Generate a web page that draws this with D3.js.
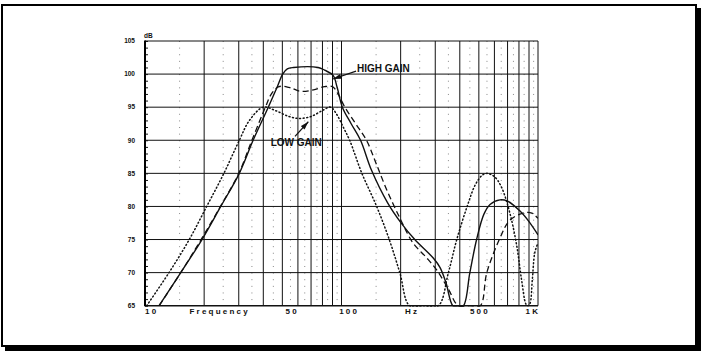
<!DOCTYPE html>
<html>
<head>
<meta charset="utf-8">
<script src="https://cdn.jsdelivr.net/npm/d3@7"></script>
<style>
  html, body { margin: 0; padding: 0; background: #fff; }
  svg { display: block; }
  text { font-family: Arial, "Liberation Sans", Helvetica, sans-serif; font-weight: bold; fill: #111; }
</style>
</head>
<body>
<div id="chart"></div>
<script>
// curves: [frequency Hz, level dB]
const highGain = [
    [11.8, 65], [15.2, 70], [19.5, 75], [24.3, 80], [30.2, 85], [35.5, 90], [42.4, 95], [47, 98],
    [50.2, 100], [53, 100.8], [57, 101], [76, 101], [82, 100.6], [90.6, 99.8], [95, 98], [101, 95],
    [112, 92.5], [125, 90], [142, 85.5], [172, 80.5], [200, 77.6], [236, 75], [293, 72.2], [317, 70.8],
    [340, 68.5], [369, 65], [392, 55], [417, 65], [450, 70], [487, 75], [530, 78.8], [570, 80.3],
    [640, 81], [700, 80.8], [810, 79.3], [900, 77.7], [1000, 75.7]
];
const midGain = [
    [11.8, 65], [15.2, 70], [19.3, 75], [24.2, 80], [30, 85], [35, 90], [41, 95], [44, 97],
    [48, 98.1], [54, 98], [62, 97.4], [72, 97.6], [82, 98.1], [90, 98.1], [96, 97], [104, 95],
    [118, 92.5], [134, 90], [150, 86.5], [170, 82.5], [200, 78], [231, 74.5], [270, 72.3], [305, 70.4],
    [350, 67.5], [393, 65], [450, 58], [508, 65], [549, 70], [640, 75.2], [718, 77.9], [840, 79],
    [930, 79], [1000, 78.2]
];
const lowGain = [
    [10.2, 65], [13.25, 70], [16.8, 75], [20.6, 80], [25.2, 85], [30.2, 90], [34, 93], [40, 95],
    [46, 94.5], [54, 93.6], [61, 93.3], [70, 93.6], [80, 94.5], [88, 95], [95, 93.8], [102, 92],
    [110, 90], [127, 85], [151, 80], [175, 75], [198, 70], [222, 65], [262, 55], [311, 65],
    [350, 70], [386, 75], [436, 80], [480, 83.3], [520, 84.7], [549, 85], [600, 84.5], [650, 83],
    [719, 79], [780, 74], [824, 69], [870, 65.2], [890, 63], [910, 65.3], [936, 69], [963, 73],
    [1000, 74.5]
];

const dbTicks = [65, 70, 75, 80, 85, 90, 95, 100, 105];
const majorFreqs = [20, 30, 40, 50, 60, 70, 80, 90, 100, 200, 300, 400, 500, 600, 700, 800, 900, 1000];
const minorFreqs = [15, 25, 35, 45, 55, 65, 75, 85, 95, 150, 250, 350, 450, 550, 650, 750, 850, 950];
const xLabels = [
    { text: "1 0", f: 10, anchor: "start" },
    { text: "F r e q u e n c y", f: 23.7, anchor: "middle" },
    { text: "5 0", f: 55.4, anchor: "middle" },
    { text: "1 0 0", f: 108, anchor: "middle" },
    { text: "H z", f: 226, anchor: "middle" },
    { text: "5 0 0", f: 500, anchor: "middle" },
    { text: "1 K", f: 1000, anchor: "end" }
];
const notes = [
    { text: "HIGH GAIN", tf: 120, tdb: 100.26, f0: 118.6, db0: 100.45, f1: 90.5, db1: 99.25 },
    { text: "LOW GAIN", tf: 43.6, tdb: 89.2, f0: 58, db0: 90.6, f1: 67.8, db1: 92.8 }
];

const width = 701;
const height = 351;
const plot = { left: 145, right: 538, top: 41, bottom: 305.7 };

const svg = d3.select("#chart")
    .append("svg")
    .attr("width", width)
    .attr("height", height);

const defs = svg.append("defs");

defs.append("clipPath")
    .attr("id", "plotClip")
    .append("rect")
    .attr("x", plot.left)
    .attr("y", plot.top)
    .attr("width", plot.right - plot.left)
    .attr("height", plot.bottom - plot.top + 1);

defs.append("marker")
    .attr("id", "arrow")
    .attr("viewBox", "0 0 10 6")
    .attr("refX", 10).attr("refY", 3)
    .attr("markerUnits", "userSpaceOnUse")
    .attr("markerWidth", 10).attr("markerHeight", 5)
    .attr("orient", "auto")
    .append("path")
    .attr("d", "M0,0 L10,3 L0,6 Z")
    .style("fill", "#111");

// frame with drop shadow
svg.append("rect")
    .attr("x", 5).attr("y", 8)
    .attr("width", 696).attr("height", 343)
    .style("fill", "#000");

svg.append("rect")
    .attr("x", 2).attr("y", 5)
    .attr("width", 694).attr("height", 341)
    .style("fill", "#fff")
    .style("stroke", "#000")
    .style("stroke-width", 2);

const x = d3.scaleLog().domain([10, 1000]).range([plot.left, plot.right]);
const y = d3.scaleLinear().domain([65, 105]).range([plot.bottom, plot.top]).clamp(true);

const g = svg.append("g");

// dotted half-step lines
const dbStep = y(65) - y(66);
g.selectAll("line.minor")
    .data(minorFreqs).enter()
    .append("line")
    .attr("class", "minor")
    .attr("x1", d => x(d)).attr("x2", d => x(d))
    .attr("y1", y(105)).attr("y2", y(65))
    .style("stroke", "#888")
    .style("stroke-width", 1)
    .style("stroke-dasharray", "1," + (dbStep - 1));

// major vertical lines
g.selectAll("line.major")
    .data(majorFreqs).enter()
    .append("line")
    .attr("class", "major")
    .attr("x1", d => x(d)).attr("x2", d => x(d))
    .attr("y1", y(105)).attr("y2", y(65))
    .style("stroke", "#111")
    .style("stroke-width", 1);

// horizontal lines
g.selectAll("line.hgrid")
    .data(dbTicks).enter()
    .append("line")
    .attr("class", "hgrid")
    .attr("x1", plot.left).attr("x2", plot.right)
    .attr("y1", d => y(d)).attr("y2", d => y(d))
    .style("stroke", "#111")
    .style("stroke-width", d => d === 65 ? 1.5 : 1);

// left axis with 1 dB ticks
const yAxis = d3.axisRight(y)
    .ticks(40)
    .tickSize(3)
    .tickFormat("");

const axisG = g.append("g")
    .attr("transform", "translate(" + plot.left + ",0)")
    .call(yAxis);
axisG.select(".domain").remove();
axisG.selectAll("line").style("stroke", "#111");

g.append("line")
    .attr("x1", plot.left).attr("x2", plot.left)
    .attr("y1", y(105) - 0.5).attr("y2", y(65) + 0.5)
    .style("stroke", "#000")
    .style("stroke-width", 2);

// y labels
g.selectAll("text.ylab")
    .data(dbTicks).enter()
    .append("text")
    .attr("class", "ylab")
    .attr("x", plot.left - 10)
    .attr("y", d => y(d))
    .attr("dy", "0.35em")
    .attr("text-anchor", "end")
    .style("font-size", "6.5px")
    .text(d => d);

g.append("text")
    .attr("x", plot.left - 1)
    .attr("y", y(105) - 3.5)
    .style("font-size", "6.5px")
    .text("dB");

// x labels
g.selectAll("text.xlab")
    .data(xLabels).enter()
    .append("text")
    .attr("class", "xlab")
    .attr("x", d => x(d.f))
    .attr("y", plot.bottom + 8.5)
    .attr("text-anchor", d => d.anchor)
    .style("font-size", "8px")
    .style("white-space", "pre")
    .text(d => d.text);

// curves
const line = d3.line()
    .x(d => x(d[0]))
    .y(d => y(d[1]))
    .curve(d3.curveCatmullRom.alpha(0.5));

const series = [
    { data: lowGain, dash: "1,2.6", width: 1.5, cap: "round" },
    { data: midGain, dash: "6,3.5", width: 1.3, cap: "butt" },
    { data: highGain, dash: null, width: 1.4, cap: "butt" }
];

g.append("g")
    .attr("clip-path", "url(#plotClip)")
    .selectAll("path.curve")
    .data(series).enter()
    .append("path")
    .attr("class", "curve")
    .attr("d", d => line(d.data))
    .style("fill", "none")
    .style("stroke", "#111")
    .style("stroke-width", d => d.width)
    .style("stroke-linecap", d => d.cap)
    .style("stroke-dasharray", d => d.dash);

// annotations
g.selectAll("line.note")
    .data(notes).enter()
    .append("line")
    .attr("class", "note")
    .attr("x1", d => x(d.f0)).attr("y1", d => y(d.db0))
    .attr("x2", d => x(d.f1)).attr("y2", d => y(d.db1))
    .style("stroke", "#111")
    .style("stroke-width", 1.2)
    .attr("marker-end", "url(#arrow)");

g.selectAll("text.note")
    .data(notes).enter()
    .append("text")
    .attr("class", "note")
    .attr("x", d => x(d.tf))
    .attr("y", d => y(d.tdb))
    .style("font-size", "10px")
    .text(d => d.text);
</script>
</body>
</html>
